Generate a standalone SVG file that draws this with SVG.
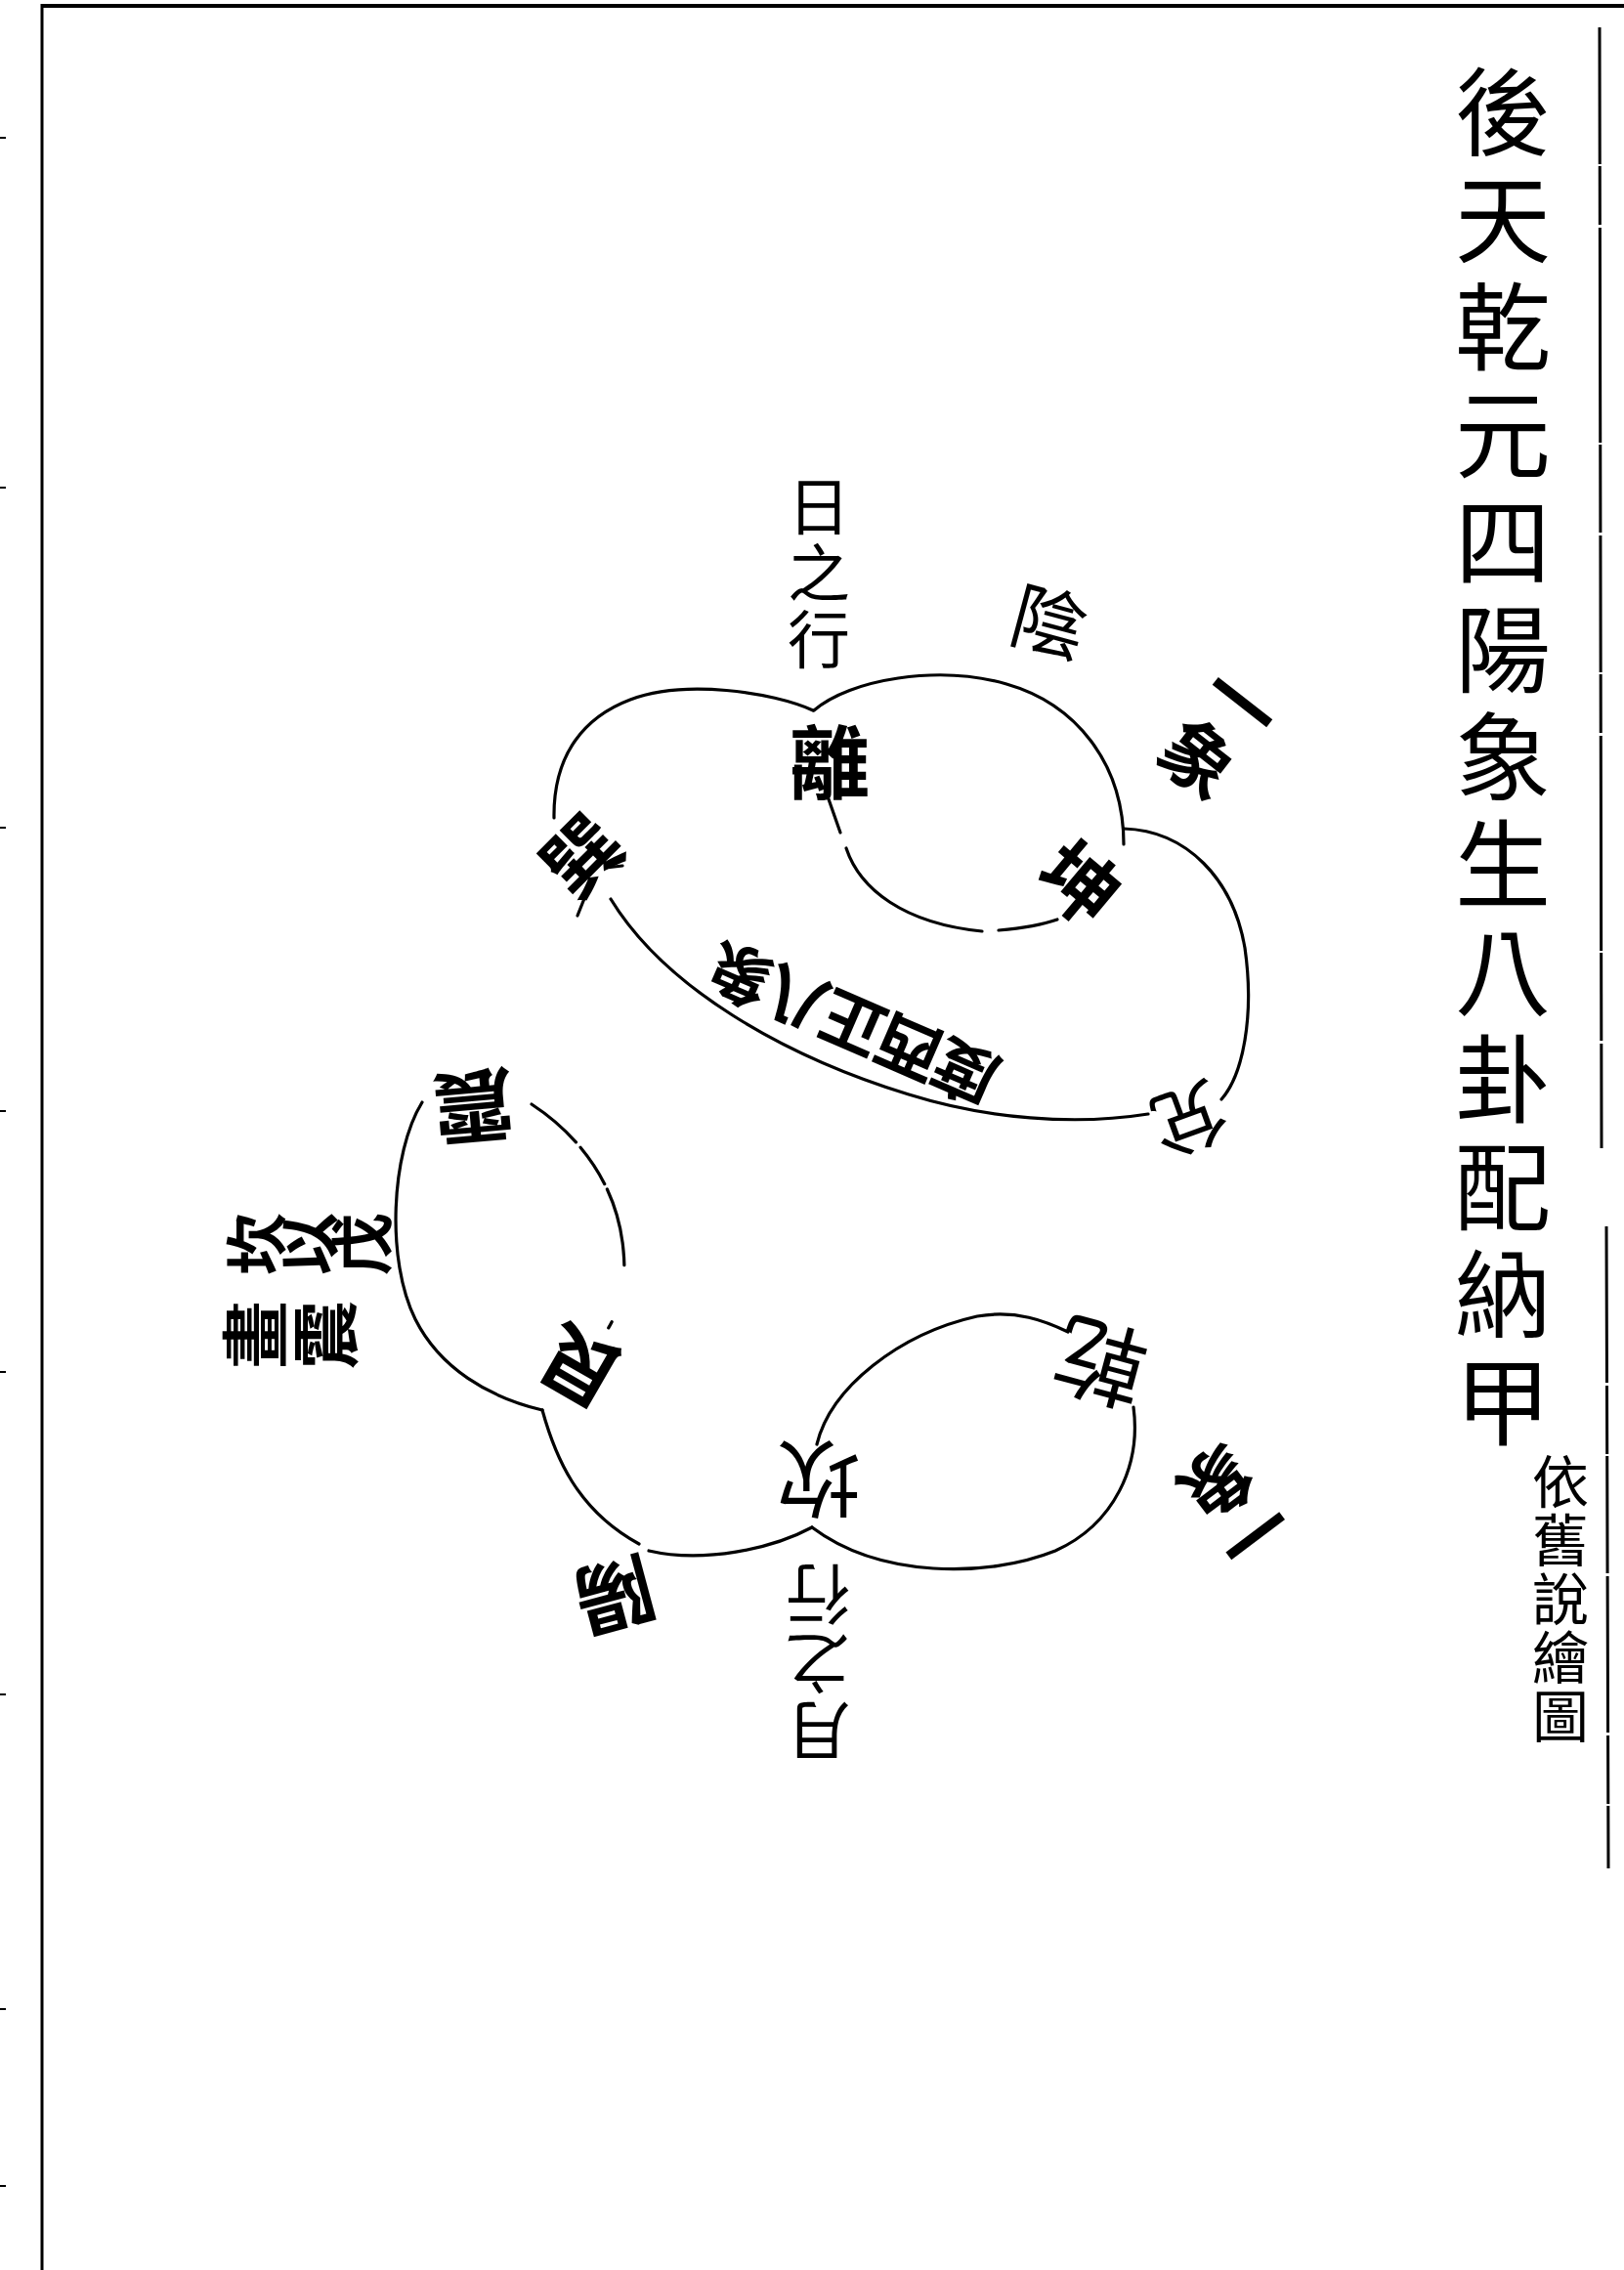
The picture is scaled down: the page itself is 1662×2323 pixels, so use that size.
<svg xmlns="http://www.w3.org/2000/svg" width="1662" height="2323" viewBox="0 0 1662 2323">
<style>
.ln{fill:none;stroke:#000;stroke-width:3.2;stroke-linecap:round;stroke-linejoin:round}
.fr{fill:none;stroke:#000;stroke-linecap:butt}
.t{font-family:"Noto Sans CJK TC","Noto Sans CJK SC","Noto Sans CJK JP",sans-serif;fill:#000;text-anchor:middle;dominant-baseline:central}
.v{font-family:"Noto Sans CJK TC","Noto Sans CJK SC","Noto Sans CJK JP",sans-serif;fill:#000;writing-mode:vertical-rl;text-anchor:start}
.vm{font-family:"Noto Sans CJK TC","Noto Sans CJK SC","Noto Sans CJK JP",sans-serif;fill:#000;writing-mode:vertical-rl;text-anchor:middle}
.b{font-weight:700}
</style>
<rect width="1662" height="2323" fill="#fff"/>

<g id="frame">
  <line class="fr" x1="42" y1="6" x2="1662" y2="6" stroke-width="4"/>
  <line class="fr" x1="43" y1="4" x2="43" y2="2323" stroke-width="3"/>
  <path class="fr" d="M1637,28 L1639,1175" stroke-width="3" stroke-dasharray="140 2 60 3 220 2 90 3"/>
  <path class="fr" d="M1644,1255 L1646,1912" stroke-width="3" stroke-dasharray="160 3 70 2 120 3"/>
  <g fill="#000">
    <rect x="0" y="140" width="6" height="2"/>
    <rect x="0" y="498" width="6" height="2"/>
    <rect x="0" y="846" width="6" height="2"/>
    <rect x="0" y="1136" width="6" height="2"/>
    <rect x="0" y="1403" width="6" height="2"/>
    <rect x="0" y="1733" width="6" height="2"/>
    <rect x="0" y="2055" width="6" height="2"/>
    <rect x="0" y="2236" width="6" height="2"/>
  </g>
</g>

<g id="title">
  <text class="v" font-size="98" letter-spacing="12" x="1538" y="65">後天乾元四陽象生八卦配納甲</text>
</g>
<g id="subtitle">
  <text class="v" font-size="58" letter-spacing="2" x="1597" y="1487">依舊說繪圖</text>
</g>

<g id="connectors">
  <!-- upper figure -->
  <path class="ln" d="M832,727 C790,708 700,695 645,716 C600,733 566,770 567,837"/>
  <path class="ln" d="M625,920 C680,1010 800,1080 930,1120 C1010,1145 1100,1152 1175,1140"/>
  <path class="ln" d="M1150,848 C1215,850 1262,900 1274,970 C1284,1040 1272,1100 1250,1125"/>
  <path class="ln" d="M833,727 C870,695 960,680 1030,700 C1100,720 1150,780 1150,864"/>
  <path class="ln" d="M847,815 L860,852"/>
  <path class="ln" d="M866,868 C880,910 925,945 1005,953"/>
  <path class="ln" d="M1022,952 C1045,950 1065,947 1082,941"/>
  <path class="ln" d="M620,888 L637,886"/>
  <path class="ln" d="M603,907 L591,937"/>
  <!-- lower figure -->
  <path class="ln" d="M432,1128 C400,1180 395,1290 425,1350 C450,1400 500,1430 555,1443"/>
  <path class="ln" d="M555,1443 C568,1490 590,1545 654,1580"/>
  <path class="ln" d="M664,1587 C720,1600 790,1585 831,1563"/>
  <path class="ln" d="M544,1130 C590,1160 632,1210 638,1280 C642,1320 632,1345 619,1365" stroke-dasharray="60 7 45 6 80"/>
  <path class="ln" d="M836,1478 C850,1420 920,1365 1000,1347 C1040,1340 1070,1352 1093,1363"/>
  <path class="ln" d="M1160,1440 C1168,1500 1140,1560 1080,1587 C1010,1615 900,1615 831,1563"/>
</g>

<g id="upper-labels">
  <g id="n-rizhixing"><text class="v" font-size="64" letter-spacing="4" x="838" y="486">日之行</text></g>
  <g id="n-yin" transform="translate(1075,632) rotate(15)"><text class="t" font-size="76" x="0" y="0">陰</text></g>
  <g id="n-yixiang-up" transform="translate(1250,746) rotate(38)"><text class="vm b" font-size="76" letter-spacing="-4" x="0" y="0">一象</text></g>
  <g id="n-li"><text class="t b" font-size="82" x="849" y="775">離</text></g>
  <g id="n-kun" transform="translate(1108,900) rotate(40)"><text class="t b" font-size="80" x="0" y="0">坤</text></g>
  <g id="n-dui" transform="translate(1218,1150) rotate(160)"><text class="t" font-size="76" x="0" y="0">兌</text></g>
  <g id="n-xun" transform="translate(592,872) rotate(-45)"><text class="t b" font-size="78" x="0" y="0">巽</text></g>
  <g id="n-arc-text" transform="translate(872,1052) rotate(203.4)"><text class="t b" font-size="66" letter-spacing="-3" x="0" y="0">度西正八象</text></g>
</g>

<g id="lower-labels">
  <g id="n-zhen" transform="translate(485,1137) rotate(175)"><text class="t b" font-size="82" x="0" y="0">震</text></g>
  <g id="n-gen" transform="translate(591,1403) rotate(-150)"><text class="t b" font-size="80" x="0" y="0">艮</text></g>
  <g id="n-kan" transform="translate(838,1518) rotate(180)"><text class="t" font-size="86" x="0" y="0">坎</text></g>
  <g id="n-yang" transform="translate(631,1638) rotate(165)"><text class="t b" font-size="80" x="0" y="0">陽</text></g>
  <g id="n-yuezhixing" transform="translate(837,1700) rotate(180)"><text class="vm" font-size="66" letter-spacing="4" x="0" y="0">月之行</text></g>
  <g id="n-qian" transform="translate(1125,1400) rotate(195)"><text class="t" font-size="92" x="0" y="0">乾</text></g>
  <g id="n-yixiang-low" transform="translate(1267,1548) rotate(143)"><text class="vm b" font-size="74" letter-spacing="-8" x="0" y="0">一象</text></g>
  <g id="n-side-text">
    <g transform="translate(311,1273) rotate(-90)"><text class="vm b" font-size="64" letter-spacing="-10" x="0" y="0">坎以戊</text></g>
    <g transform="translate(298,1366) rotate(-90)"><text class="vm b" font-size="70" letter-spacing="2" x="0" y="0">畫震</text></g>
  </g>
</g>
</svg>
